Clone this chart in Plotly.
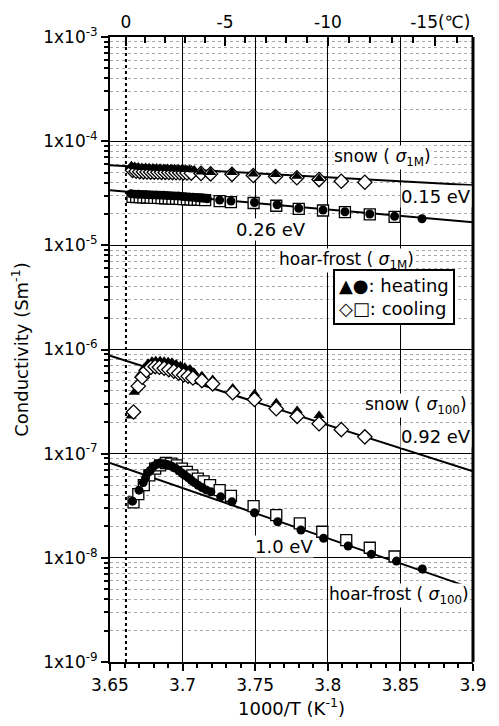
import plotly.graph_objects as go

# ---------------- data ----------------
# snow, sigma_1M
snow1m_heat_x = [3.6647, 3.6670, 3.6695, 3.6720, 3.6745, 3.6770, 3.6795, 3.6820, 3.6845, 3.6870,
                 3.6895, 3.6920, 3.6945, 3.6970, 3.6995, 3.7020, 3.7047, 3.7080, 3.7127, 3.7193,
                 3.7340, 3.7487, 3.7640, 3.7787, 3.7940]
snow1m_heat_y = [5.80e-5, 5.70e-5, 5.65e-5, 5.60e-5, 5.58e-5, 5.55e-5, 5.53e-5, 5.52e-5, 5.50e-5, 5.48e-5,
                 5.46e-5, 5.45e-5, 5.43e-5, 5.42e-5, 5.40e-5, 5.38e-5, 5.35e-5, 5.30e-5, 5.05e-5, 5.00e-5,
                 5.00e-5, 4.85e-5, 4.78e-5, 4.61e-5, 4.38e-5]
snow1m_cool_x = [3.6655, 3.6680, 3.6705, 3.6730, 3.6755, 3.6780, 3.6805, 3.6830, 3.6855, 3.6880,
                 3.6905, 3.6930, 3.6955, 3.6980, 3.7005, 3.7030, 3.7060, 3.7127, 3.7193, 3.7340,
                 3.7487, 3.7640, 3.7787, 3.7940, 3.8093, 3.8255]
snow1m_cool_y = [5.25e-5, 5.15e-5, 5.10e-5, 5.08e-5, 5.06e-5, 5.05e-5, 5.04e-5, 5.03e-5, 5.02e-5, 5.01e-5,
                 5.00e-5, 4.99e-5, 4.98e-5, 4.97e-5, 4.96e-5, 4.95e-5, 4.93e-5, 4.90e-5, 4.85e-5, 4.80e-5,
                 4.68e-5, 4.58e-5, 4.45e-5, 4.28e-5, 4.12e-5, 4.03e-5]

# hoar-frost, sigma_1M
hoar1m_heat_x = [3.6645, 3.6670, 3.6695, 3.6720, 3.6745, 3.6770, 3.6795, 3.6820, 3.6845, 3.6870,
                 3.6895, 3.6920, 3.6945, 3.6970, 3.6995, 3.7020, 3.7045, 3.7070, 3.7095, 3.7120,
                 3.7145, 3.7170, 3.7255, 3.7333, 3.7495, 3.7651, 3.7800, 3.7967, 3.8118, 3.8289,
                 3.8460, 3.8649]
hoar1m_heat_y = [3.12e-5, 3.10e-5, 3.09e-5, 3.08e-5, 3.07e-5, 3.06e-5, 3.05e-5, 3.04e-5, 3.03e-5, 3.02e-5,
                 3.01e-5, 3.00e-5, 2.98e-5, 2.97e-5, 2.95e-5, 2.93e-5, 2.91e-5, 2.89e-5, 2.87e-5, 2.85e-5,
                 2.83e-5, 2.80e-5, 2.72e-5, 2.66e-5, 2.58e-5, 2.45e-5, 2.27e-5, 2.18e-5, 2.10e-5, 2.00e-5,
                 1.90e-5, 1.80e-5]
hoar1m_cool_x = [3.6655, 3.6680, 3.6705, 3.6730, 3.6755, 3.6780, 3.6805, 3.6830, 3.6855, 3.6880,
                 3.6905, 3.6930, 3.6955, 3.6980, 3.7005, 3.7030, 3.7055, 3.7080, 3.7105, 3.7130,
                 3.7155, 3.7255, 3.7333, 3.7489, 3.7645, 3.7800, 3.7967, 3.8118, 3.8289, 3.8460]
hoar1m_cool_y = [2.92e-5, 2.91e-5, 2.90e-5, 2.89e-5, 2.88e-5, 2.87e-5, 2.86e-5, 2.85e-5, 2.84e-5, 2.83e-5,
                 2.82e-5, 2.81e-5, 2.80e-5, 2.79e-5, 2.78e-5, 2.77e-5, 2.76e-5, 2.75e-5, 2.74e-5, 2.73e-5,
                 2.72e-5, 2.66e-5, 2.60e-5, 2.55e-5, 2.40e-5, 2.24e-5, 2.16e-5, 2.08e-5, 1.98e-5, 1.88e-5]

# snow, sigma_100
snow100_heat_x = [3.6645, 3.6667, 3.6705, 3.6733, 3.6762, 3.6789, 3.6815, 3.6845, 3.6873, 3.6900,
                  3.6927, 3.6955, 3.6985, 3.7015, 3.7051, 3.7078, 3.7133, 3.7207, 3.7345, 3.7495,
                  3.7645, 3.7789, 3.7940]
snow100_heat_y = [2.30e-7, 3.89e-7, 5.70e-7, 6.61e-7, 7.38e-7, 7.71e-7, 7.81e-7, 7.81e-7, 7.71e-7, 7.64e-7,
                  7.54e-7, 7.27e-7, 7.00e-7, 6.76e-7, 6.51e-7, 6.05e-7, 5.61e-7, 5.14e-7, 4.26e-7, 3.75e-7,
                  3.08e-7, 2.60e-7, 2.32e-7]
snow100_cool_x = [3.6662, 3.6695, 3.6722, 3.6751, 3.6782, 3.6811, 3.6840, 3.6873, 3.6905, 3.6940,
                  3.6973, 3.7007, 3.7038, 3.7071, 3.7133, 3.7207, 3.7345, 3.7495, 3.7645, 3.7789,
                  3.7940, 3.8093, 3.8255]
snow100_cool_y = [2.51e-7, 4.45e-7, 5.42e-7, 6.27e-7, 6.76e-7, 6.84e-7, 6.76e-7, 6.61e-7, 6.41e-7, 6.18e-7,
                  5.91e-7, 5.70e-7, 5.54e-7, 5.33e-7, 5.02e-7, 4.68e-7, 3.84e-7, 3.31e-7, 2.70e-7, 2.28e-7,
                  1.94e-7, 1.70e-7, 1.45e-7]

# hoar-frost, sigma_100
hoar100_heat_x = [3.6655, 3.6700, 3.6729, 3.6745, 3.6762, 3.6778, 3.6800, 3.6822, 3.6845, 3.6871,
                  3.6895, 3.6922, 3.6949, 3.6973, 3.6995, 3.7015, 3.7038, 3.7060, 3.7082, 3.7107,
                  3.7133, 3.7162, 3.7195, 3.7262, 3.7340, 3.7495, 3.7655, 3.7815, 3.7971, 3.8140,
                  3.8300, 3.8473, 3.8651]
hoar100_heat_y = [3.50e-8, 4.46e-8, 5.28e-8, 5.85e-8, 6.57e-8, 6.92e-8, 7.56e-8, 7.90e-8, 8.07e-8, 8.02e-8,
                  7.85e-8, 7.62e-8, 7.29e-8, 6.92e-8, 6.53e-8, 6.19e-8, 5.89e-8, 5.55e-8, 5.27e-8, 4.97e-8,
                  4.73e-8, 4.49e-8, 4.30e-8, 3.85e-8, 3.45e-8, 2.71e-8, 2.22e-8, 1.85e-8, 1.54e-8, 1.30e-8,
                  1.08e-8, 9.31e-9, 7.81e-9]
hoar100_cool_x = [3.6662, 3.6695, 3.6733, 3.6771, 3.6811, 3.6845, 3.6885, 3.6922, 3.6960, 3.6995,
                  3.7029, 3.7067, 3.7105, 3.7145, 3.7189, 3.7255, 3.7333, 3.7489, 3.7645, 3.7807,
                  3.7962, 3.8127, 3.8289, 3.8460]
hoar100_cool_y = [3.40e-8, 4.08e-8, 4.98e-8, 6.20e-8, 7.18e-8, 7.72e-8, 8.14e-8, 8.02e-8, 7.72e-8, 7.18e-8,
                  6.68e-8, 6.20e-8, 5.76e-8, 5.43e-8, 4.98e-8, 4.46e-8, 3.94e-8, 3.13e-8, 2.57e-8, 2.14e-8,
                  1.78e-8, 1.48e-8, 1.25e-8, 1.03e-8]

# Arrhenius fit lines (end points)
fit_snow1m_x = [3.65, 3.90]
fit_snow1m_y = [5.87e-5, 3.78e-5]
fit_hoar1m_x = [3.65, 3.90]
fit_hoar1m_y = [3.38e-5, 1.67e-5]
fit_snow100_x = [3.65, 3.90]
fit_snow100_y = [8.73e-7, 6.78e-8]
fit_hoar100_x = [3.65, 3.8927]
fit_hoar100_y = [8.15e-8, 5.50e-9]

# axis ticks
x_ticks = [3.65, 3.70, 3.75, 3.80, 3.85, 3.90]
x_ticktext = ["3.65", "3.7", "3.75", "3.8", "3.85", "3.9"]
y_exponents = [-9, -8, -7, -6, -5, -4, -3]
celsius_major = [0, -5, -10, -15]
celsius_text = ["0", "-5", "-10", "  -15(℃)"]
celsius_minor = [c for c in range(-1, -18, -1) if c not in celsius_major]

FONT = "DejaVu Sans"
fig = go.Figure()

for xs, ys in [(fit_snow1m_x, fit_snow1m_y), (fit_hoar1m_x, fit_hoar1m_y),
               (fit_snow100_x, fit_snow100_y), (fit_hoar100_x, fit_hoar100_y)]:
    fig.add_trace(go.Scatter(x=xs, y=ys, mode="lines", line=dict(color="black", width=2),
                             showlegend=False, hoverinfo="skip"))

tri = dict(symbol="triangle-up", size=10, color="black")
dia = dict(symbol="diamond", size=11, color="white", line=dict(color="black", width=1.3))
sq = dict(symbol="square", size=11, color="white", line=dict(color="black", width=1.3))
cir = dict(symbol="circle", size=9, color="black")

fig.add_trace(go.Scatter(x=snow1m_cool_x, y=snow1m_cool_y, mode="markers", marker=dia, showlegend=False))
fig.add_trace(go.Scatter(x=snow1m_heat_x, y=snow1m_heat_y, mode="markers", marker=tri, showlegend=False))
fig.add_trace(go.Scatter(x=hoar1m_cool_x, y=hoar1m_cool_y, mode="markers", marker=sq, showlegend=False))
fig.add_trace(go.Scatter(x=hoar1m_heat_x, y=hoar1m_heat_y, mode="markers", marker=cir, showlegend=False))
fig.add_trace(go.Scatter(x=snow100_heat_x, y=snow100_heat_y, mode="markers", marker=tri, showlegend=False))
fig.add_trace(go.Scatter(x=snow100_cool_x, y=snow100_cool_y, mode="markers", marker=dia, showlegend=False))
fig.add_trace(go.Scatter(x=hoar100_cool_x, y=hoar100_cool_y, mode="markers", marker=sq, showlegend=False))
fig.add_trace(go.Scatter(x=hoar100_heat_x, y=hoar100_heat_y, mode="markers", marker=cir, showlegend=False))

# invisible trace to activate the top (Celsius) axis
fig.add_trace(go.Scatter(x=[3.65, 3.9], y=[1e-9, 1e-9], xaxis="x2", mode="markers",
                         marker=dict(opacity=0), showlegend=False, hoverinfo="skip"))

def c2x(c):
    return 1000.0 / (273.15 + c)

# 0 degC dotted vertical line
fig.add_shape(type="line", xref="x", yref="paper", x0=c2x(0), x1=c2x(0), y0=0, y1=1,
              line=dict(color="black", width=2, dash="dot"), layer="below")

minor_y = [m * 10 ** e for e in range(-9, -3) for m in range(2, 10)]
minor_x = [3.65 + 0.01 * i for i in range(1, 25) if i % 5 != 0]

fig.update_layout(
    width=499, height=726,
    margin=dict(l=110, r=14, t=37, b=62),
    paper_bgcolor="white", plot_bgcolor="white",
    font=dict(family=FONT, size=17, color="black"),
    xaxis=dict(range=[3.65, 3.9], tickmode="array", tickvals=x_ticks, ticktext=x_ticktext,
               ticks="outside", ticklen=7, tickwidth=1.5, tickcolor="black",
               showline=True, linecolor="black", linewidth=2, mirror=False,
               showgrid=True, gridcolor="black", gridwidth=1, zeroline=False,
               minor=dict(tickmode="array", tickvals=minor_x, ticks="outside", ticklen=4,
                          tickcolor="black", showgrid=False),
               title=dict(text="1000/T (K<sup>-1</sup>)", standoff=6, font=dict(size=18)),
               tickfont=dict(size=17)),
    xaxis2=dict(range=[3.65, 3.9], overlaying="x", side="top", tickmode="array",
                tickvals=[c2x(c) for c in celsius_major], ticktext=celsius_text,
                ticks="inside", ticklen=9, tickwidth=1.5, tickcolor="black",
                showline=True, linecolor="black", linewidth=2, showgrid=False, zeroline=False,
                minor=dict(tickmode="array", tickvals=[c2x(c) for c in celsius_minor],
                           ticks="inside", ticklen=6, tickcolor="black", showgrid=False),
                tickfont=dict(size=17)),
    yaxis=dict(type="log", range=[-9, -3], tickmode="array",
               tickvals=[10 ** e for e in y_exponents],
               ticktext=["1x10<sup>%d</sup>" % e for e in y_exponents],
               ticks="outside", ticklen=7, tickwidth=1.5, tickcolor="black",
               showline=True, linecolor="black", linewidth=2, mirror=False,
               showgrid=True, gridcolor="black", gridwidth=1, zeroline=False,
               minor=dict(tickmode="array", tickvals=minor_y, ticks="outside", ticklen=4,
                          tickcolor="black", showgrid=True, gridcolor="#a8a8a8",
                          griddash="dot", gridwidth=1),
               title=dict(text="Conductivity (Sm<sup>-1</sup>)", standoff=10, font=dict(size=18)),
               tickfont=dict(size=17)),
)

# right border
fig.add_shape(type="line", xref="paper", yref="paper", x0=1, x1=1, y0=0, y1=1,
              line=dict(color="black", width=3))

def ann(text, x, logy, size=17, **kw):
    kw.setdefault("borderpad", 0)
    fig.add_annotation(x=x, y=logy, xref="x", yref="y", text=text, showarrow=False,
                       font=dict(family=FONT, size=size, color="black"),
                       bgcolor="white", **kw)

ann("snow ( <i>σ</i><sub>1M</sub>)", 3.838, -4.155)
ann("0.15 eV", 3.8747, -4.535, size=18)
ann("0.26 eV", 3.7607, -4.847, size=18)
ann("hoar-frost ( <i>σ</i><sub>1M</sub>)", 3.8127, -5.150)
ann("▲●: heating<br>◇□: cooling", 3.8453, -5.498, size=18, bordercolor="black", borderwidth=2,
    borderpad=4, align="left")
ann("snow ( <i>σ</i><sub>100</sub>)", 3.861, -6.540)
ann("0.92 eV", 3.8747, -6.837, size=18)
ann("1.0 eV", 3.770, -7.890, size=18)
ann("hoar-frost ( <i>σ</i><sub>100</sub>)", 3.8487, -8.359)

fig.write_html("out.html")
